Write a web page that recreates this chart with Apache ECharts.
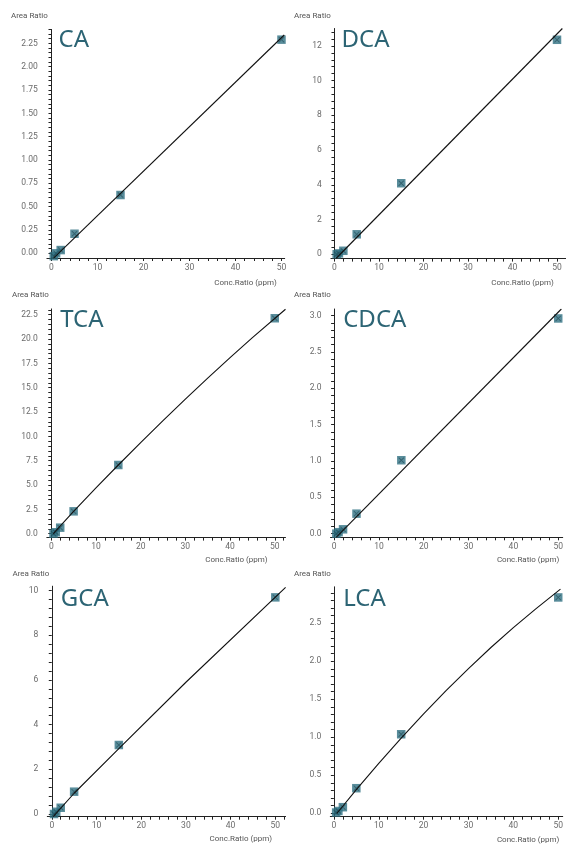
<!DOCTYPE html>
<html><head><meta charset="utf-8">
<script src="https://cdn.jsdelivr.net/npm/echarts@6/dist/echarts.min.js"></script>
<style>html,body{margin:0;padding:0;background:#fff}#c{width:566px;height:844px}</style>
</head><body><div id="c"></div>
<script>
// ---------- data ----------
const titles = ['CA', 'DCA', 'TCA', 'CDCA', 'GCA', 'LCA'];
const concRatio = [0.5, 1, 2, 5, 15, 50];

const caArea   = [-0.03, 0.0, 0.035, 0.21, 0.625, 2.29];
const dcaArea  = [0.0, 0.05, 0.2, 1.15, 4.09, 12.35];
const tcaArea  = [0.0, 0.15, 0.62, 2.3, 7.06, 22.14];
const cdcaArea = [0.0, 0.02, 0.06, 0.275, 1.01, 2.96];
const gcaArea  = [0.0, 0.1, 0.28, 1.0, 3.09, 9.7];
const lcaArea  = [0.01, 0.03, 0.08, 0.33, 1.04, 2.84];

// calibration (fit) curves
const caFitX   = [0.4, 50.6];
const caFitY   = [-0.054, 2.34];
const dcaFitX  = [0.4, 51.2];
const dcaFitY  = [-0.23, 13.0];
const tcaFitX  = [0.45, 5, 10, 15, 20, 25, 30, 35, 40, 45, 52.4];
const tcaFitY  = [0.0, 2.3, 4.71, 7.06, 9.37, 11.62, 13.83, 15.98, 18.09, 20.14, 23.06];
const cdcaFitX = [0.46, 50.7];
const cdcaFitY = [-0.05, 3.09];
const gcaFitX  = [0.33, 5, 15, 30, 52.3];
const gcaFitY  = [-0.12, 0.93, 2.93, 5.9, 10.15];
const lcaFitX  = [0.65, 5, 10, 15, 20, 25, 30, 35, 40, 45, 50.5];
const lcaFitY  = [-0.003, 0.31, 0.657, 0.99, 1.309, 1.614, 1.904, 2.181, 2.443, 2.69, 2.949];

// tick labels
const xTicks    = [0, 10, 20, 30, 40, 50];
const caTicks   = [0, 0.25, 0.5, 0.75, 1.0, 1.25, 1.5, 1.75, 2.0, 2.25];
const dcaTicks  = [0, 2, 4, 6, 8, 10, 12];
const tcaTicks  = [0, 2.5, 5, 7.5, 10, 12.5, 15, 17.5, 20, 22.5];
const cdcaTicks = [0, 0.5, 1.0, 1.5, 2.0, 2.5, 3.0];
const gcaTicks  = [0, 2, 4, 6, 8, 10];
const lcaTicks  = [0, 0.5, 1.0, 1.5, 2.0, 2.5];

const xAxisName = 'Conc.Ratio (ppm)';
const yAxisName = 'Area Ratio';

// ---------- panel settings ----------
const series = [
  {y: caArea,   fx: caFitX,   fy: caFitY,   ticks: caTicks,   dec: 2, minor: 0.05, yMin: -0.05, yMax: 2.40, xMin: -1,   xMax: 50.7},
  {y: dcaArea,  fx: dcaFitX,  fy: dcaFitY,  ticks: dcaTicks,  dec: 0, minor: 0.4,  yMin: -0.25, yMax: 13,   xMin: -0.8, xMax: 52},
  {y: tcaArea,  fx: tcaFitX,  fy: tcaFitY,  ticks: tcaTicks,  dec: 1, minor: 0.5,  yMin: -0.4,  yMax: 23.1, xMin: -1,   xMax: 52.4},
  {y: cdcaArea, fx: cdcaFitX, fy: cdcaFitY, ticks: cdcaTicks, dec: 1, minor: 0.1,  yMin: -0.05, yMax: 3.09, xMin: -0.8, xMax: 51},
  {y: gcaArea,  fx: gcaFitX,  fy: gcaFitY,  ticks: gcaTicks,  dec: 0, minor: 0.4,  yMin: -0.12, yMax: 10.2, xMin: -1,   xMax: 52.3},
  {y: lcaArea,  fx: lcaFitX,  fy: lcaFitY,  ticks: lcaTicks,  dec: 1, minor: 0.1,  yMin: -0.045,yMax: 2.98, xMin: -0.8, xMax: 51}
];
const layout = [
  {left: 46.9,  top: 29.4,  width: 237.8, height: 228.6, yName: [11, 15.7],  xName: [276.7, 282.7], title: [58.5, 40]},
  {left: 330.9, top: 28.5,  width: 235.0, height: 230.1, yName: [294, 15.7], xName: [553.7, 282.7], title: [341.5, 40]},
  {left: 46.8,  top: 308.9, width: 238.7, height: 228.7, yName: [12, 295],   xName: [267.6, 560],   title: [60.2, 320]},
  {left: 330.5, top: 309.0, width: 236.8, height: 228.3, yName: [294, 295],  xName: [559.3, 560],   title: [343.2, 320]},
  {left: 47.3,  top: 586.2, width: 238.3, height: 230.5, yName: [12.5, 574], xName: [272, 839.3],   title: [60.8, 599.3]},
  {left: 330.3, top: 586.8, width: 237.8, height: 229.9, yName: [294, 574],  xName: [559.3, 840],   title: [343.2, 599.3]}
];

const FONT = 'Roboto';
const markColor = '#2f7082';
const crossColor = '#1d4652';
const titleColor = '#2c6474';
const crossPath = 'path://M0,0L1.2,0L5,3.8L8.8,0L10,0L10,1.2L6.2,5L10,8.8L10,10L8.8,10L5,6.2L1.2,10L0,10L0,8.8L3.8,5L0,1.2Z';

function steps(from, to, step) {
  const out = [];
  for (let v = from; v <= to + 1e-9; v += step) out.push(Math.round(v * 1e6) / 1e6);
  return out;
}

const grid = [], xAxis = [], yAxis = [], allSeries = [], graphic = [];
series.forEach((p, i) => {
  const L = layout[i];
  grid.push({left: L.left, top: L.top, width: L.width, height: L.height, containLabel: false});
  xAxis.push({
    type: 'value', gridIndex: i, min: p.xMin, max: p.xMax, position: 'bottom',
    splitLine: {show: false},
    axisLine: {onZero: false, lineStyle: {color: '#222', width: 1}},
    axisTick: {show: true, length: 3, customValues: steps(0, p.xMax, 2), lineStyle: {color: '#222'}},
    axisLabel: {customValues: xTicks, margin: 5, color: '#6b6b6b', fontFamily: FONT, fontSize: 8.5,
                formatter: v => String(Math.round(v))}
  });
  yAxis.push({
    type: 'value', gridIndex: i, min: p.yMin, max: p.yMax, position: 'left',
    splitLine: {show: false},
    axisLine: {onZero: true, lineStyle: {color: '#222', width: 1}},
    axisTick: {show: true, length: 3, customValues: steps(0, p.yMax, p.minor), lineStyle: {color: '#222'}},
    axisLabel: {customValues: p.ticks, margin: 9, color: '#6b6b6b', fontFamily: FONT, fontSize: 8.5,
                formatter: v => Number(v).toFixed(p.dec)}
  });
  const pts = concRatio.map((x, k) => [x, p.y[k]]);
  allSeries.push({
    type: 'scatter', xAxisIndex: i, yAxisIndex: i, data: pts, clip: false,
    symbol: 'rect', symbolSize: 8.5, itemStyle: {color: markColor}, z: 2, silent: true
  });
  allSeries.push({
    type: 'scatter', xAxisIndex: i, yAxisIndex: i, data: pts, clip: false,
    symbol: crossPath, symbolSize: 5.5, itemStyle: {color: crossColor, opacity: 0.6}, z: 3, silent: true
  });
  allSeries.push({
    type: 'line', xAxisIndex: i, yAxisIndex: i, data: p.fx.map((x, k) => [x, p.fy[k]]),
    showSymbol: false, smooth: false, clip: true,
    lineStyle: {color: '#111', width: 1.1}, z: 4, silent: true
  });
  graphic.push({type: 'text', x: L.yName[0], y: L.yName[1], silent: true,
    style: {text: yAxisName, fill: '#555', font: '8px ' + FONT, textAlign: 'left', textVerticalAlign: 'middle'}});
  graphic.push({type: 'text', x: L.xName[0], y: L.xName[1], silent: true,
    style: {text: xAxisName, fill: '#555', font: '8px ' + FONT, textAlign: 'right', textVerticalAlign: 'middle'}});
  graphic.push({type: 'text', x: L.title[0], y: L.title[1], silent: true,
    style: {text: titles[i], fill: titleColor, font: '24px "Noto Sans"', textAlign: 'left', textVerticalAlign: 'middle'}});
});

const chart = echarts.init(document.getElementById('c'), null, {renderer: 'canvas'});
chart.setOption({animation: false, backgroundColor: '#fff', grid, xAxis, yAxis, series: allSeries, graphic});
</script>
</body></html>
